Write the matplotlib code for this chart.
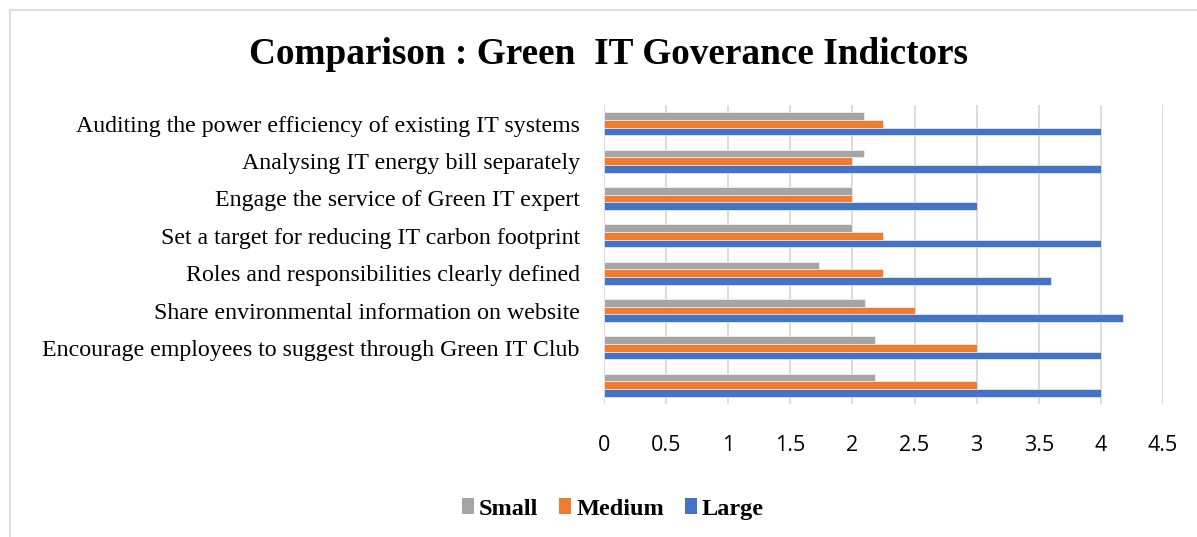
import matplotlib
matplotlib.use("Agg")
import matplotlib.pyplot as plt
import numpy as np
from matplotlib.patches import Patch
from matplotlib.lines import Line2D

categories = [
    "Auditing the power efficiency of existing IT systems",
    "Analysing IT energy bill separately",
    "Engage the service of Green IT expert",
    "Set a target for reducing IT carbon footprint",
    "Roles and responsibilities clearly defined",
    "Share environmental information on website",
    "Encourage employees to suggest through Green IT Club",
    "",
]
small = [2.09, 2.09, 2.0, 2.0, 1.73, 2.10, 2.18, 2.18]
medium = [2.25, 2.0, 2.0, 2.25, 2.25, 2.5, 3.0, 3.0]
large = [4.0, 4.0, 3.0, 4.0, 3.6, 4.18, 4.0, 4.0]
series_names = ["Small", "Medium", "Large"]
colors = ["#A5A5A5", "#ED7D31", "#4472C4"]
x_ticks = [0, 0.5, 1, 1.5, 2, 2.5, 3, 3.5, 4, 4.5]

W, H = 1197, 537
fig = plt.figure(figsize=(W / 100, H / 100), dpi=100)
ax = fig.add_axes([604 / W, 1 - 404 / H, (1163 - 604) / W, (404 - 105) / H])

y = np.arange(len(categories))
bh = 0.205
for vals, off, col in zip([small, medium, large], [-bh, 0, bh], colors):
    ax.barh(y + off, vals, height=bh, color=col, edgecolor="white",
            linewidth=0.4, zorder=3)

ax.set_ylim(len(categories) - 0.5, -0.5)
ax.set_xlim(0, 4.5)
ax.set_xticks(x_ticks)
ax.set_xticklabels([f"{t:g}" for t in x_ticks], family="Open Sans", fontsize=15.5)
ax.set_yticks(y)
ax.set_yticklabels(categories, family="Liberation Serif", fontsize=17.2)
ax.tick_params(axis="both", length=0)
ax.tick_params(axis="x", pad=22)
ax.tick_params(axis="y", pad=17.5)
ax.grid(axis="x", color="#D9D9D9", linewidth=1.3, zorder=0)
for s in ax.spines.values():
    s.set_visible(False)

fig.text(608.5 / W, 1 - 54 / H, "Comparison : Green  IT Goverance Indictors",
         ha="center", va="center", family="Liberation Serif",
         fontweight="bold", fontsize=26.8)

handles = [Patch(facecolor=c, edgecolor="none") for c in colors]
fig.legend(handles, series_names, loc="center", bbox_to_anchor=(613 / W, 1 - 509 / H),
           ncol=3, frameon=False,
           prop={"family": "Liberation Serif", "weight": "bold", "size": 17.5},
           handlelength=0.5, handleheight=0.62, handletextpad=0.2,
           columnspacing=0.86)

# chart frame
fig.add_artist(Line2D([9.5 / W, 9.5 / W], [0, 1 - 9.5 / H], transform=fig.transFigure,
                      color="#D9D9D9", linewidth=1.2))
fig.add_artist(Line2D([9.5 / W, 1], [1 - 9.5 / H, 1 - 9.5 / H], transform=fig.transFigure,
                      color="#D9D9D9", linewidth=1.2))

fig.savefig("out.png", dpi=100)
